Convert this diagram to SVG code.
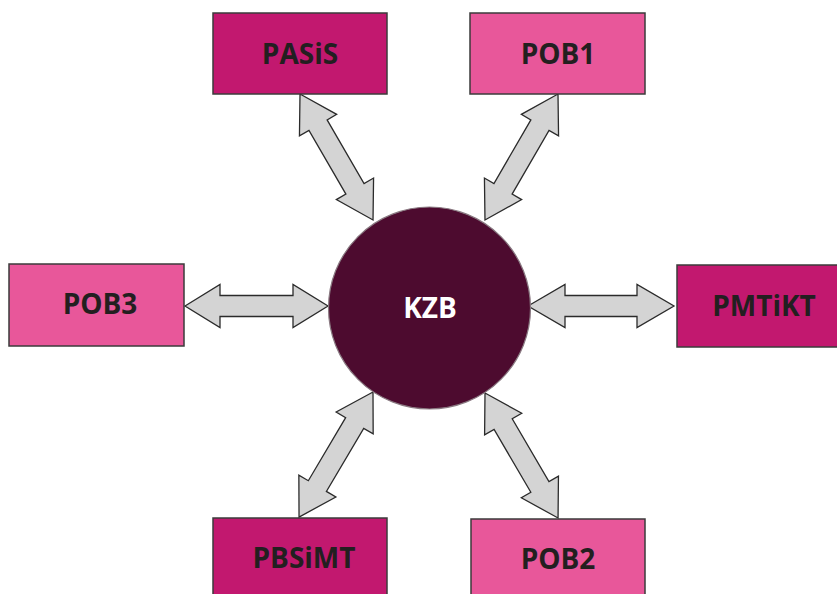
<svg xmlns="http://www.w3.org/2000/svg" width="837" height="594" viewBox="0 0 837 594">
<style>
.box{stroke:#3b3b3b;stroke-width:1.5}
.dark{fill:#C2186F}
.light{fill:#E8579A}
.lbl{font-family:"Open Sans","DejaVu Sans",sans-serif;font-weight:700;font-size:28px;fill:#231F20;text-anchor:middle}
.arr{fill:#D4D4D4;stroke:#2b2b2b;stroke-width:1.3;stroke-linejoin:miter}
</style>
<rect width="837" height="594" fill="#fff"/>
<g id="connectors">
<polygon class="arr" transform="translate(300,94) rotate(59.9)" points="0,0 36,-21.5 36,-10.5 109.6,-10.5 109.6,-21.5 145.6,0 109.6,21.5 109.6,10.5 36,10.5 36,21.5"/>
<polygon class="arr" transform="translate(558,94) rotate(120.1)" points="0,0 36,-21.5 36,-10.5 109.6,-10.5 109.6,-21.5 145.6,0 109.6,21.5 109.6,10.5 36,10.5 36,21.5"/>
<polygon class="arr" transform="translate(373,392) rotate(120.6)" points="0,0 36,-21.5 36,-10.5 109.3,-10.5 109.3,-21.5 145.3,0 109.3,21.5 109.3,10.5 36,10.5 36,21.5"/>
<polygon class="arr" transform="translate(485,393) rotate(59.7)" points="0,0 36,-21.5 36,-10.5 108.8,-10.5 108.8,-21.5 144.8,0 108.8,21.5 108.8,10.5 36,10.5 36,21.5"/>
<polygon class="arr" transform="translate(185,306)" points="0,0 35,-21.5 35,-10.5 108,-10.5 108,-21.5 143,0 108,21.5 108,10.5 35,10.5 35,21.5"/>
<polygon class="arr" transform="translate(528,306)" points="0,0 37,-21.5 37,-10.5 109,-10.5 109,-21.5 146,0 109,21.5 109,10.5 37,10.5 37,21.5"/>
</g>
<g id="KZB">
<circle cx="429.5" cy="308" r="101" fill="#4D0B2F" stroke="#8a7a82" stroke-width="1.2"/>
<text class="lbl" x="430" y="318" style="fill:#fff">KZB</text>
</g>
<g id="PASiS">
<rect class="box dark" x="213" y="13" width="174" height="81"/>
<text class="lbl" x="300" y="64">PASiS</text>
</g>
<g id="POB1">
<rect class="box light" x="470" y="13" width="175" height="81"/>
<text class="lbl" x="558" y="64">POB1</text>
</g>
<g id="POB3">
<rect class="box light" x="9" y="264" width="175" height="82"/>
<text class="lbl" x="100" y="314">POB3</text>
</g>
<g id="PMTiKT">
<rect class="box dark" x="677" y="265" width="170" height="82"/>
<text class="lbl" x="764" y="316">PMTiKT</text>
</g>
<g id="PBSiMT">
<rect class="box dark" x="213" y="518" width="174" height="90"/>
<text class="lbl" x="304" y="568">PBSiMT</text>
</g>
<g id="POB2">
<rect class="box light" x="471" y="519" width="174" height="90"/>
<text class="lbl" x="558" y="569">POB2</text>
</g>
</svg>
